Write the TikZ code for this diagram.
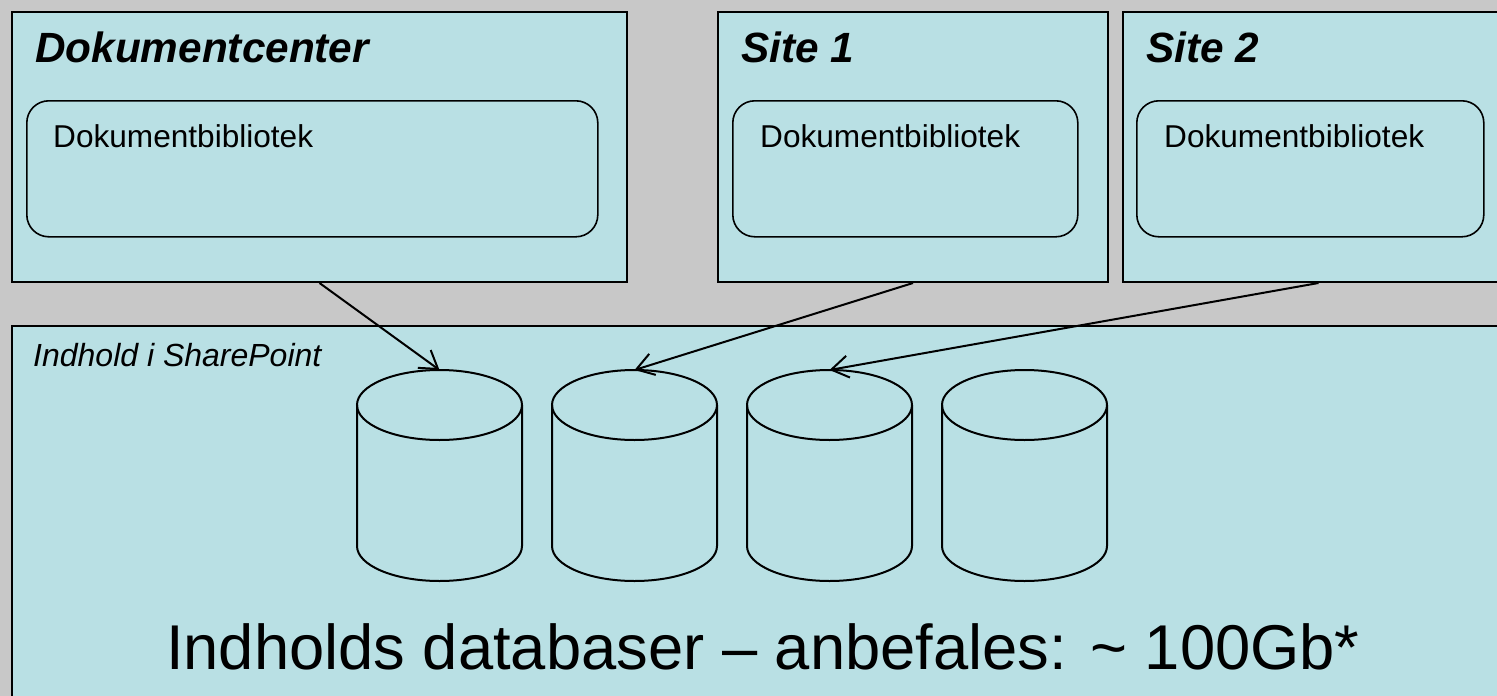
\documentclass[tikz,border=0pt]{standalone}
\usepackage{fontspec}
\setmainfont{Liberation Sans}
\usetikzlibrary{arrows.meta}
\definecolor{pagegray}{RGB}{200,200,200}
\definecolor{panel}{RGB}{185,224,228}
\tikzset{
  panelbox/.style={draw=black, line width=2pt, fill=panel, rectangle, inner sep=0pt, anchor=north west},
  libbox/.style={draw=black, line width=1.6pt, rectangle, rounded corners=22pt, inner sep=0pt, anchor=north west},
  heading/.style={font=\fontsize{42.3}{50}\selectfont\bfseries\itshape, anchor=base west, inner sep=0pt},
  libtext/.style={font=\fontsize{31.6}{37}\selectfont, anchor=base west, inner sep=0pt},
  areatext/.style={font=\fontsize{32}{38}\selectfont\itshape, anchor=base west, inner sep=0pt},
  bigtext/.style={font=\fontsize{63.3}{75}\selectfont, anchor=base, inner sep=0pt},
  feed/.style={draw=black, line width=2pt, -{Straight Barb[length=17pt,width=22pt,line width=2pt]}},
  pics/dbcyl/.style={code={
    \draw[line width=2pt, fill=panel] (-82.5,0) -- (-82.5,141) arc[start angle=180, end angle=360, x radius=82.5pt, y radius=35pt] -- (82.5,0);
    \draw[line width=2pt] (0,0) ellipse[x radius=82.5pt, y radius=35pt];
    \coordinate (-top) at (0,-35);
  }}
}
\begin{document}
\begin{tikzpicture}[x=1pt, y=-1pt]
\useasboundingbox (0,0) rectangle (1497,696);
\clip (0,0) rectangle (1497,696);
\fill[pagegray] (0,0) rectangle (1497,696);

% site collections along the top
\node[panelbox, minimum width=615pt, minimum height=270pt] (dc) at (11,11) {};
\node[panelbox, minimum width=390pt, minimum height=270pt] (s1) at (717,11) {};
\node[panelbox, minimum width=391pt, minimum height=270pt] (s2) at (1122,11) {};

\node[heading] (dct) at (35,62) {Dokumentcenter};
\node[heading] (s1t) at (741,62) {Site 1};
\node[heading] (s2t) at (1146,62) {Site 2};

% document libraries
\node[libbox, minimum width=571pt, minimum height=136pt] (dcl) at (26,100) {};
\node[libbox, minimum width=345pt, minimum height=136pt] (s1l) at (732,100) {};
\node[libbox, minimum width=347pt, minimum height=136pt] (s2l) at (1136,100) {};

\node[libtext] (dclt) at (53,147) {Dokumentbibliotek};
\node[libtext] (s1lt) at (760,147) {Dokumentbibliotek};
\node[libtext] (s2lt) at (1164,147) {Dokumentbibliotek};

% content area with the databases
\node[panelbox, minimum width=1502pt, minimum height=420pt] (content) at (11,325) {};
\node[areatext] (contentt) at (33,366) {Indhold i SharePoint};

\pic (db1) at (439.5,405) {dbcyl};
\pic (db2) at (634.5,405) {dbcyl};
\pic (db3) at (829.5,405) {dbcyl};
\pic (db4) at (1024.5,405) {dbcyl};

\node[bigtext] (dbt) at (763,669) {Indholds databaser – anbefales: \textasciitilde{} 100Gb*};

% which database each site is stored in
\draw[feed] (dc.south) -- (db1-top);
\draw[feed] (s1.south) -- (db2-top);
\draw[feed] (s2.south) -- (db3-top);
\end{tikzpicture}
\end{document}
